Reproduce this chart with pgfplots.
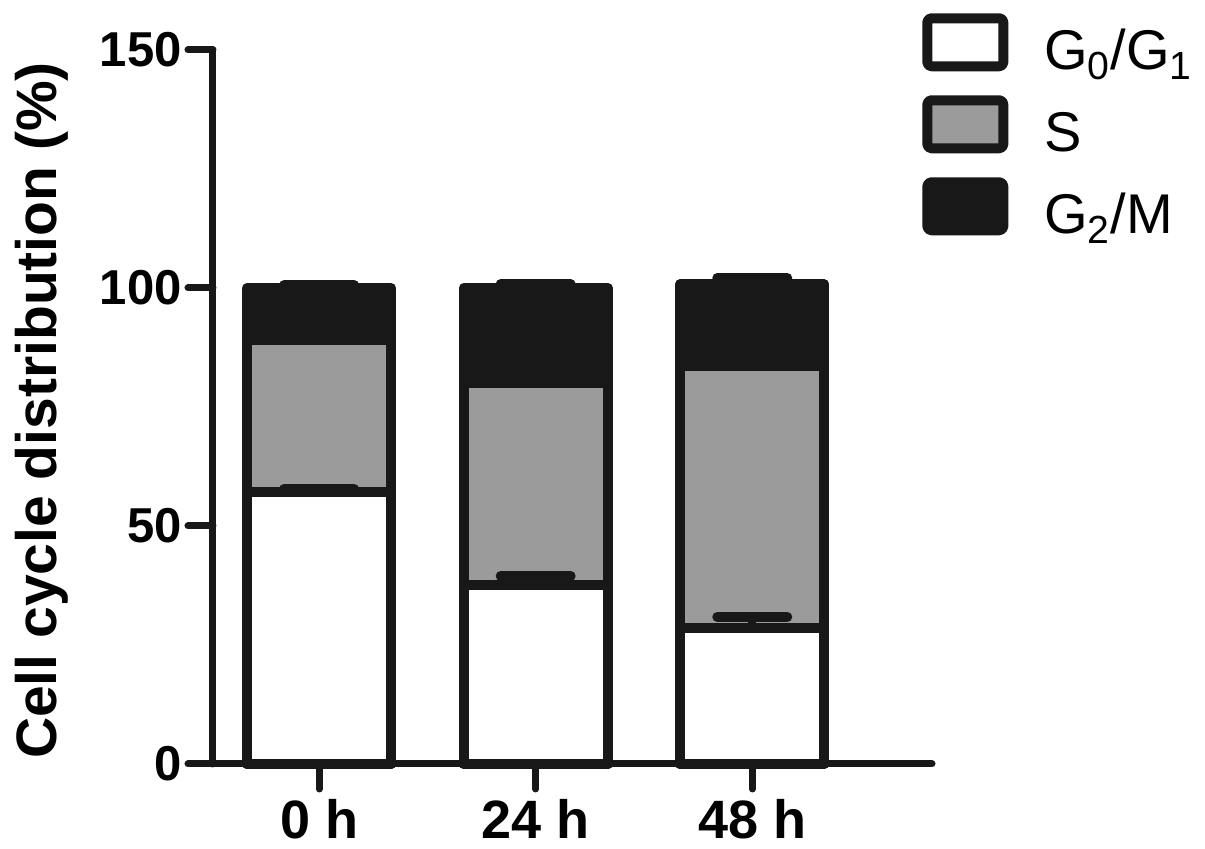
\documentclass[border=0pt]{standalone}
\usepackage{fontspec}
\setmainfont{Liberation Sans}
\usepackage{pgfplots}
\pgfplotsset{compat=1.18}
\definecolor{barblack}{HTML}{181818}
\definecolor{bargray}{HTML}{9B9B9B}

\begin{document}
\begin{tikzpicture}
\useasboundingbox (0,0) rectangle (602.5pt,424.5pt);
\begin{axis}[
  at={(106.5pt,42.5pt)}, anchor=south west,
  width=359.5pt, height=357pt, scale only axis,
  xmin=-0.49, xmax=2.83, ymin=0, ymax=150,
  axis x line=bottom, axis y line=left,
  axis line style={line width=3.5pt, draw=barblack, -, line cap=round},
  xtick={0,1,2}, xticklabels={0 h, 24 h, 48 h},
  ytick={0,50,100,150},
  tick align=outside, major tick length=12.5pt,
  tick style={line width=3.5pt, draw=barblack, line cap=round},
  /pgf/number format/assume math mode=true,
  yticklabel style={font=\bfseries\fontsize{24.5}{24.5}\selectfont, inner sep=1pt, xshift=-2pt},
  xticklabel style={font=\bfseries\fontsize{27}{27}\selectfont, inner sep=1pt, yshift=-4pt},
  ylabel={\bfseries Cell cycle distribution (\%)},
  ylabel style={font=\fontsize{28.5}{28.5}\selectfont, at={(axis description cs:-0.2387,0.495)}, anchor=center},
  ybar, bar width=72pt, bar shift=0pt,
  clip=false,
  every axis plot/.append style={line width=5pt, draw=barblack, line join=round},
  error bars/y dir=plus, error bars/y explicit,
  error bars/error bar style={line width=4pt, draw=barblack, line cap=round},
  error bars/error mark options={rotate=90, line width=5pt, mark size=17.5pt, line cap=round, draw=barblack},
  legend style={draw=none, fill=none, at={(axis description cs:0.986,1.052)}, anchor=north west,
    font=\fontsize{28}{28}\selectfont, inner sep=0pt, row sep=4pt, column sep=17pt,
    nodes={inner sep=1pt, text height=22pt, text depth=8pt}},
  legend cell align=left,
  legend image code/.code={\draw[#1, line width=5pt, rounded corners=2pt] (0pt,-5.5pt) rectangle (38pt,18.5pt);},
]
% cumulative tops (G2/M, S, G0/G1), drawn back to front
\addplot[fill=barblack, forget plot] coordinates {(0,100) +- (0,0.6) (1,100) +- (0,0.8) (2,100.8) +- (0,1.3)};
\addplot[fill=bargray, forget plot] coordinates {(0,89.1) +- (0,1.0) (1,80.0) +- (0,1.5) (2,83.6) +- (0,1.5)};
\addplot[fill=white, forget plot] coordinates {(0,57.2) +- (0,0.6) (1,37.5) +- (0,2.0) (2,28.6) +- (0,2.3)};
\addlegendimage{fill=white, draw=barblack}
\addlegendentry{G\textsubscript{0}/G\textsubscript{1}}
\addlegendimage{fill=bargray, draw=barblack}
\addlegendentry{S}
\addlegendimage{fill=barblack, draw=barblack}
\addlegendentry{G\textsubscript{2}/M}
\end{axis}
\end{tikzpicture}
\end{document}
